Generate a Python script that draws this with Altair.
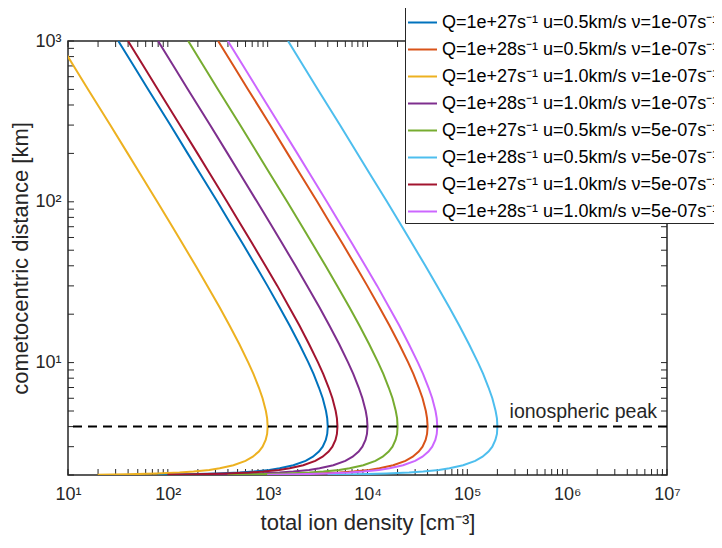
import altair as alt
import pandas as pd

# cometocentric distance [km]
r_km = [2.01, 2.02, 2.04, 2.07, 2.1, 2.15, 2.2, 2.3, 2.45, 2.6, 2.8, 3.0, 3.3, 3.6, 4.0,
        4.5, 5, 6, 7, 8.5, 10, 13, 17, 22, 30, 40, 55, 75, 100, 150, 200, 300, 500, 700, 1000]

# total ion density [cm^-3], one list per curve
n_blue = [79.2, 157, 308, 523, 724, 1040, 1320, 1810, 2400, 2840, 3260, 3560, 3820, 3950, 4000,
          3950, 3840, 3560, 3260, 2880, 2560, 2080, 1660, 1320, 996, 760, 561, 415, 314, 210, 158, 106, 63.6, 45.6, 31.9]
n_orange = [792, 1570, 3080, 5230, 7240, 10400, 13200, 18100, 24000, 28400, 32600, 35600, 38200, 39500, 40000,
            39500, 38400, 35600, 32600, 28800, 25600, 20800, 16600, 13200, 9960, 7600, 5610, 4150, 3140, 2100, 1580, 1060, 636, 456, 319]
n_yellow = [19.8, 39.2, 76.9, 131, 181, 260, 331, 454, 600, 710, 816, 889, 955, 988, 1000,
            988, 960, 889, 816, 720, 640, 521, 415, 331, 249, 190, 140, 104, 78.4, 52.6, 39.6, 26.5, 15.9, 11.4, 7.98]
n_purple = [198, 392, 769, 1310, 1810, 2600, 3310, 4540, 6000, 7100, 8160, 8890, 9550, 9880, 10000,
            9880, 9600, 8890, 8160, 7200, 6400, 5210, 4150, 3310, 2490, 1900, 1400, 1040, 784, 526, 396, 265, 159, 114, 79.8]
n_green = [396, 784, 1540, 2610, 3620, 5190, 6620, 9070, 12000, 14200, 16300, 17800, 19100, 19800, 20000,
           19800, 19200, 17800, 16300, 14400, 12800, 10400, 8300, 6610, 4980, 3800, 2800, 2080, 1570, 1050, 792, 530, 318, 228, 160]
n_lightblue = [3960, 7840, 15400, 26100, 36200, 51900, 66200, 90700, 120000, 142000, 163000, 178000, 191000, 198000, 200000,
               198000, 192000, 178000, 163000, 144000, 128000, 104000, 83000, 66100, 49800, 38000, 28000, 20800, 15700, 10500, 7920, 5300, 3180, 2280, 1600]
n_darkred = [99, 196, 385, 654, 905, 1300, 1660, 2270, 3000, 3550, 4080, 4450, 4780, 4940, 5000,
             4940, 4800, 4450, 4080, 3600, 3200, 2600, 2080, 1650, 1250, 950, 701, 519, 392, 263, 198, 132, 79.5, 57, 39.9]
n_magenta = [990, 1960, 3850, 6540, 9050, 13000, 16600, 22700, 30000, 35500, 40800, 44500, 47800, 49400, 50000,
             49400, 48000, 44500, 40800, 36000, 32000, 26000, 20800, 16500, 12500, 9500, 7010, 5190, 3920, 2630, 1980, 1320, 795, 570, 399]

curve_labels = [
    "Q=1e+27s⁻¹ u=0.5km/s ν=1e-07s⁻¹",
    "Q=1e+28s⁻¹ u=0.5km/s ν=1e-07s⁻¹",
    "Q=1e+27s⁻¹ u=1.0km/s ν=1e-07s⁻¹",
    "Q=1e+28s⁻¹ u=1.0km/s ν=1e-07s⁻¹",
    "Q=1e+27s⁻¹ u=0.5km/s ν=5e-07s⁻¹",
    "Q=1e+28s⁻¹ u=0.5km/s ν=5e-07s⁻¹",
    "Q=1e+27s⁻¹ u=1.0km/s ν=5e-07s⁻¹",
    "Q=1e+28s⁻¹ u=1.0km/s ν=5e-07s⁻¹",
]
curve_colors = ["#0072BD", "#D95319", "#EDB120", "#7E2F8E", "#77AC30", "#4DBEEE", "#A2142F", "#CC66FF"]

peak_r = [4]
peak_label = ["ionospheric peak"]

x_major = [10, 100, 1000, 10000, 100000, 1000000, 10000000]
y_major = [10, 100, 1000]

series = [n_blue, n_orange, n_yellow, n_purple, n_green, n_lightblue, n_darkred, n_magenta]
rows = []
for lab, vals in zip(curve_labels, series):
    for i, (r, n) in enumerate(zip(r_km, vals)):
        rows.append({"curve": lab, "r": r, "n": n, "i": i})
df = pd.DataFrame(rows)

x_ticks = [m * k for k in x_major[:-1] for m in range(1, 10)] + [x_major[-1]]
y_ticks = [m for m in range(2, 10)] + [m * 10 for m in range(1, 10)] + [m * 100 for m in range(1, 11)]

x_expr = ("datum.value == 10 ? '10¹' : datum.value == 100 ? '10²' : datum.value == 1000 ? '10³' : "
          "datum.value == 10000 ? '10⁴' : datum.value == 100000 ? '10⁵' : datum.value == 1000000 ? '10⁶' : "
          "datum.value == 10000000 ? '10⁷' : ''")
y_expr = "datum.value == 10 ? '10¹' : datum.value == 100 ? '10²' : datum.value == 1000 ? '10³' : ''"

FONT = "Liberation Sans"
TXT = "#262626"
W, H, TICK = 599, 434, 6

xscale = alt.Scale(type="log", domain=[10, 10000000], nice=False)
yscale = alt.Scale(type="log", domain=[2, 1000], nice=False)

xt = pd.DataFrame({"v": x_ticks})
yt = pd.DataFrame({"v": y_ticks})
tick_bottom = alt.Chart(xt).mark_rule(color=TXT, strokeWidth=1).encode(
    x=alt.X("v:Q", scale=xscale, axis=None), y=alt.value(H), y2=alt.value(H - TICK))
tick_top = alt.Chart(xt).mark_rule(color=TXT, strokeWidth=1).encode(
    x=alt.X("v:Q", scale=xscale, axis=None), y=alt.value(0), y2=alt.value(TICK))
tick_left = alt.Chart(yt).mark_rule(color=TXT, strokeWidth=1).encode(
    y=alt.Y("v:Q", scale=yscale, axis=None), x=alt.value(0), x2=alt.value(TICK))
tick_right = alt.Chart(yt).mark_rule(color=TXT, strokeWidth=1).encode(
    y=alt.Y("v:Q", scale=yscale, axis=None), x=alt.value(W), x2=alt.value(W - TICK))

lines = alt.Chart(df).mark_line(strokeWidth=2, clip=True).encode(
    x=alt.X("n:Q", scale=xscale,
            axis=alt.Axis(orient="bottom", values=x_major, labelExpr=x_expr, ticks=False,
                          domain=False, grid=False, labelPadding=10, labelFlush=False,
                          labelOverlap=False, title="total ion density [cm⁻³]", titlePadding=9,
                          titleFontSize=22)),
    y=alt.Y("r:Q", scale=yscale,
            axis=alt.Axis(orient="left", values=y_major, labelExpr=y_expr, ticks=False,
                          domain=False, grid=False, labelPadding=7, labelFlush=False,
                          labelOverlap=False, title="cometocentric distance [km]", titlePadding=2,
                          titleFontSize=22)),
    color=alt.Color("curve:N", scale=alt.Scale(domain=curve_labels, range=curve_colors),
                    legend=alt.Legend(title=None, orient="none", legendX=337, legendY=-36,
                                      symbolType="stroke", symbolSize=841, symbolStrokeWidth=2,
                                      labelFontSize=18, labelFont=FONT, labelColor="black",
                                      labelLimit=600, labelOffset=4, padding=2, rowPadding=2,
                                      strokeColor=TXT, fillColor="white")),
    order=alt.Order("i:Q"),
)

peak_df = pd.DataFrame({"r": peak_r})
rule = alt.Chart(peak_df).mark_rule(strokeDash=[9, 6], strokeWidth=2, color="black").encode(
    y=alt.Y("r:Q", scale=yscale, axis=None)
)

label_df = pd.DataFrame({"r": peak_r, "n": [x_major[-1]], "label": peak_label})
text = alt.Chart(label_df).mark_text(align="right", baseline="alphabetic", dx=-10, dy=-9,
                                     fontSize=19.5, font=FONT, color=TXT).encode(
    x=alt.X("n:Q", scale=xscale, axis=None),
    y=alt.Y("r:Q", scale=yscale, axis=None),
    text="label:N",
)

chart = alt.layer(tick_bottom, tick_top, tick_left, tick_right, lines, rule, text).resolve_axis(
    x="independent", y="independent"
).properties(
    width=W, height=H,
    padding={"left": 60, "top": 33, "right": 47, "bottom": 64},
    autosize=alt.AutoSizeParams(type="none"),
    background="white",
).configure_view(
    stroke=TXT, strokeWidth=1.5
).configure_axis(
    labelFont=FONT, labelFontSize=18, labelColor=TXT,
    titleFont=FONT, titleFontWeight="normal", titleColor=TXT,
)

chart.save("out.html", embed_options={"renderer": "svg", "actions": False})
